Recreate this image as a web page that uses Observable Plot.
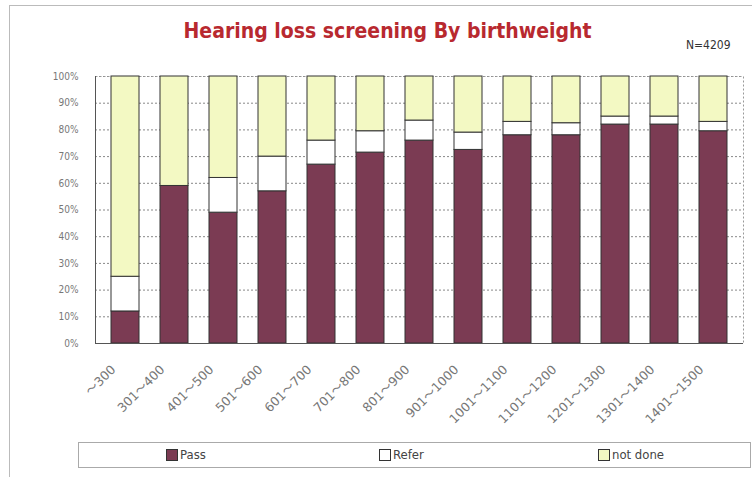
<!DOCTYPE html>
<html><head><meta charset="utf-8">
<script src="https://cdn.jsdelivr.net/npm/d3@7"></script>
<script src="https://cdn.jsdelivr.net/npm/@observablehq/plot@0.6"></script>
<style>
body{margin:0;background:#fff;}
#wrap{position:relative;width:752px;height:477px;overflow:hidden;font-family:"DejaVu Sans Condensed","DejaVu Sans",sans-serif;background:#fff;}
#frame{position:absolute;left:9px;top:5px;width:760px;height:500px;border-left:1px solid #bbb;border-top:1px solid #bbb;}
#title{position:absolute;left:0;top:0;width:752px;height:62px;}
#title .t{position:absolute;left:0;width:775px;text-align:center;top:19px;font-weight:bold;font-size:21px;color:#b8292f;}
#title .n{position:absolute;left:686px;top:38px;font-size:12px;color:#333;}
#chart{position:absolute;left:0;top:62px;}
#legend{position:absolute;left:78px;top:442px;width:671px;height:24px;border:1px solid #aaa;font-size:13px;color:#444;}
#legend .it{position:absolute;top:4px;display:flex;align-items:center;}
#legend .sw{width:10px;height:10px;border:1px solid #333;margin-right:2px;}
</style></head>
<body>
<div id="wrap">
  <div id="frame"></div>
  <div id="title"><div class="t">Hearing loss screening By birthweight</div><div class="n">N=4209</div></div>
  <div id="chart"></div>
  <div id="legend"></div>
</div>
<script>
const categories = ["～300","301～400","401～500","501～600","601～700","701～800","801～900","901～1000","1001～1100","1101～1200","1201～1300","1301～1400","1401～1500"];
const pass    = [12, 59, 49, 57, 67, 71.5, 76, 72.5, 78, 78, 82, 82, 79.5];
const refer   = [13, 0, 13, 13, 9, 8, 7.5, 6.5, 5, 4.5, 3, 3, 3.5];
const notDone = [75, 41, 38, 30, 24, 20.5, 16.5, 21, 17, 17.5, 15, 15, 17];
const seriesNames = ["Pass", "Refer", "not done"];
const seriesColors = ["#7b3b53", "#ffffff", "#f3f9c3"];
const yTicks = [0,10,20,30,40,50,60,70,80,90,100];

const seriesValues = [pass, refer, notDone];
const rows = categories.flatMap((c, i) => seriesNames.map((s, k) => ({cat: c, series: s, value: seriesValues[k][i]})));

const chart = Plot.plot({
  width: 752, height: 378,
  marginTop: 14, marginBottom: 97, marginLeft: 95, marginRight: 9,
  style: {background: "transparent", fontFamily: "'DejaVu Sans Condensed','DejaVu Sans',sans-serif"},
  x: {domain: categories, paddingInner: 0.42, paddingOuter: 0.21, label: null},
  y: {domain: [0, 100], label: null},
  color: {domain: seriesNames, range: seriesColors},
  marks: [
    Plot.gridY(yTicks, {stroke: "#888", strokeOpacity: 1, strokeDasharray: "2,2"}),
    Plot.frame({stroke: "#999", strokeDasharray: "2,2"}),
    Plot.barY(rows, {x: "cat", y: "value", fill: "series", order: seriesNames, stroke: "#333", strokeWidth: 1}),
    Plot.ruleY([0], {stroke: "#555"}),
    Plot.frame({anchor: "left", stroke: "#555", strokeDasharray: "1,1"}),
    Plot.axisY(yTicks, {tickSize: 0, tickPadding: 17, tickFormat: d => d + "%", fontSize: 10, fill: "#777"}),
    Plot.axisX({tickSize: 0, tickRotate: -45, tickPadding: 24, dx: -12, fontSize: 12.5, fontFamily: "'DejaVu Sans','Noto Sans CJK JP',sans-serif", fill: "#777"})
  ]
});
document.getElementById("chart").appendChild(chart);

const legendX = [87, 300, 519];
const legend = document.getElementById("legend");
seriesNames.forEach((s, k) => {
  const it = document.createElement("div");
  it.className = "it";
  it.style.left = legendX[k] + "px";
  const sw = document.createElement("div");
  sw.className = "sw";
  sw.style.background = seriesColors[k];
  const tx = document.createElement("span");
  tx.textContent = s;
  it.appendChild(sw); it.appendChild(tx);
  legend.appendChild(it);
});
</script>
</body></html>
